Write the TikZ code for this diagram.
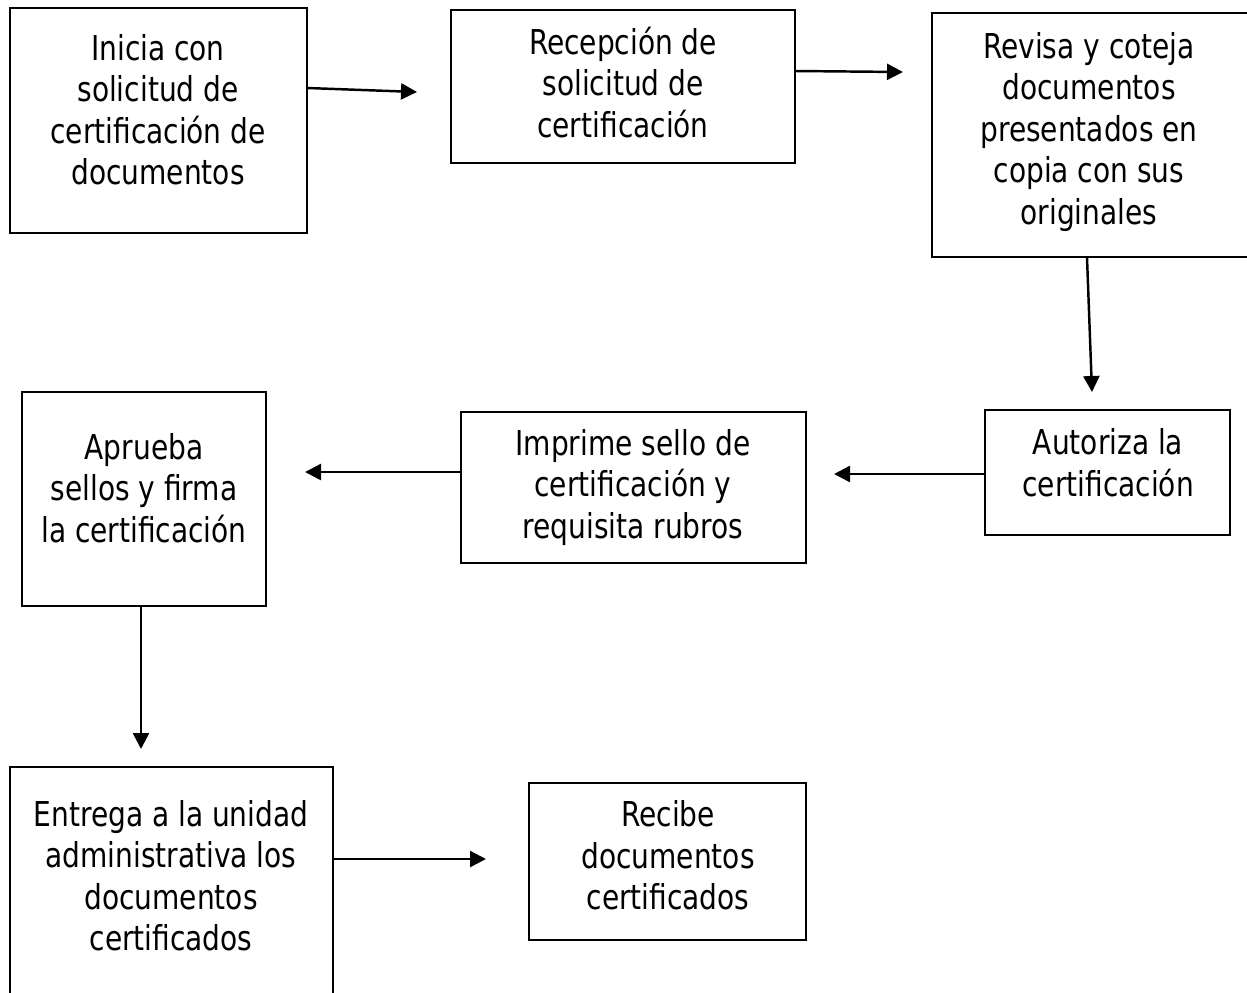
\documentclass[tikz,border=0pt]{standalone}
\usepackage{fontspec}
\setmainfont{DejaVu Sans Condensed}[FakeStretch=0.91]
\usetikzlibrary{arrows.meta}
\tikzset{
  box/.style={draw, line width=0.6pt, inner sep=0pt},
  txt/.style={align=center, inner sep=0pt, font=\fontsize{19.5}{23.6}\selectfont},
  arr/.style={line width=1.4pt, -{Triangle[length=0.32cm,width=0.32cm]}},
}
\begin{document}
\begin{tikzpicture}[x=0.02cm,y=-0.02cm]
\useasboundingbox (0,0) rectangle (1247,992);
% boxes
\node[box, minimum width=297*0.02cm, minimum height=225*0.02cm] (A) at (158.5,120.5) {};
\node[box, minimum width=344*0.02cm, minimum height=153*0.02cm] (B) at (623,86.5) {};
\node[box, minimum width=320*0.02cm, minimum height=244*0.02cm] (C) at (1092,135) {};
\node[box, minimum width=245*0.02cm, minimum height=125*0.02cm] (D) at (1107.5,472.5) {};
\node[box, minimum width=345*0.02cm, minimum height=151*0.02cm] (E) at (633.5,487.5) {};
\node[box, minimum width=244*0.02cm, minimum height=214*0.02cm] (F) at (144,499) {};
\node[box, minimum width=323*0.02cm, minimum height=233*0.02cm] (G) at (171.5,883.5) {};
\node[box, minimum width=277*0.02cm, minimum height=157*0.02cm] (H) at (667.5,861.5) {};
% texts
\node[txt] (tA) at (158,114) {\strut Inicia con\\solicitud de\\certificación de\\documentos\strut};
\node[txt] (tB) at (623,87.5) {\strut Recepción de\\solicitud de\\certificación\strut};
\node[txt] (tC) at (1089,133) {\strut Revisa y coteja\\documentos\\presentados en\\copia con sus\\originales\strut};
\node[txt] (tD) at (1108,467) {\strut Autoriza la\\certificación\strut};
\node[txt] (tE) at (633,488.5) {\strut Imprime sello de\\certificación y\\requisita rubros\strut};
\node[txt] (tF) at (144,492.5) {\strut Aprueba\\sellos y firma\\la certificación\strut};
\node[txt] (tG) at (171,880) {\strut Entrega a la unidad\\administrativa los\\documentos\\certificados\strut};
\node[txt] (tH) at (668,860) {\strut Recibe\\documentos\\certificados\strut};
% arrow ends
\coordinate (eAB) at (417,92);
\coordinate (eBC) at (903,72);
\coordinate (eCD) at (1092,392);
\coordinate (eDE) at (834,474);
\coordinate (eEF) at (305,472);
\coordinate (eFG) at (141,749);
\coordinate (eGH) at (486,859);
\draw[arr] (A.east |- 0,88) -- (eAB);
\draw[arr] (B.east |- 0,71) -- (eBC);
\draw[arr] (C.south -| 1087,0) -- (eCD);
\draw[arr] (D.west |- 0,474) -- (eDE);
\draw[arr] (E.west |- 0,472) -- (eEF);
\draw[arr] (F.south -| 141,0) -- (eFG);
\draw[arr] (G.east |- 0,859) -- (eGH);
\end{tikzpicture}
\end{document}
